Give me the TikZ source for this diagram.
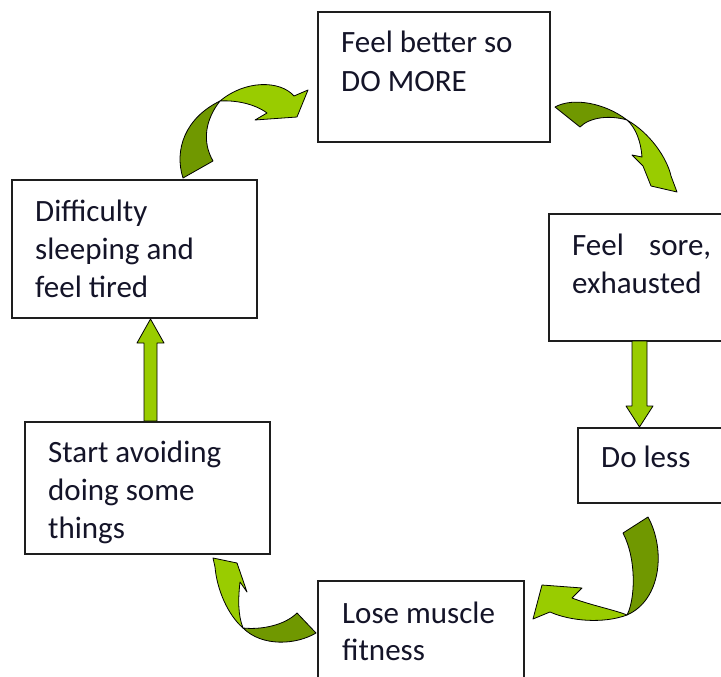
\documentclass[tikz,border=0pt]{standalone}
\usepackage{fontspec}
\setmainfont{Carlito}
\definecolor{lgreen}{RGB}{153,204,0}
\definecolor{dgreen}{RGB}{112,152,0}
\definecolor{txtc}{RGB}{20,20,40}
\definecolor{boxc}{RGB}{30,30,30}
\begin{document}
\begin{tikzpicture}[x=1pt,y=-1pt,
  box/.style={draw=boxc, line width=1.2pt, fill=white, inner sep=0pt, outer sep=0pt, anchor=north west},
  txt/.style={anchor=base west, inner sep=0pt, text=txtc, font=\fontsize{31}{38}\selectfont},
  arrl/.style={fill=lgreen, draw=black, line width=0.8pt, line join=round},
  arrd/.style={fill=dgreen, draw=black, line width=0.8pt, line join=round}]
\clip (0,0) rectangle (721,677);
\fill[white] (0,0) rectangle (721,677);
% boxes
\node[box, minimum width=232pt, minimum height=130pt] (b1) at (318,12) {};
\node[box, minimum width=245pt, minimum height=138pt] (b2) at (12,180) {};
\node[box, minimum width=190pt, minimum height=127pt] (b3) at (549,214) {};
\node[box, minimum width=160pt, minimum height=75pt] (b4) at (578,428) {};
\node[box, minimum width=245pt, minimum height=132pt] (b5) at (25,422) {};
\node[box, minimum width=206pt, minimum height=110pt] (b6) at (318,581) {};
% texts
\node[txt] (t1a) at (341,53) {Feel better so};
\node[txt] (t1b) at (341,92) {DO MORE};
\node[txt] (t2a) at (35,221) {Difficulty};
\node[txt] (t2b) at (35,259) {sleeping and};
\node[txt] (t2c) at (35,297) {feel tired};
\node[txt] (t3a) at (572,255) {\makebox[139pt][s]{Feel sore,}};
\node[txt] (t3b) at (572,293) {exhausted};
\node[txt] (t4a) at (601,467) {Do less};
\node[txt] (t5a) at (48,462) {Start avoiding};
\node[txt] (t5b) at (48,500) {doing some};
\node[txt] (t5c) at (48,538) {things};
\node[txt] (t6a) at (342,623) {Lose muscle};
\node[txt] (t6b) at (342,660) {fitness};
% straight arrows
\path[arrl] (144,421) -- (144,343) -- (137,343) -- (150.5,319) -- (164,343) -- (157,343) -- (157,421) -- cycle;
\path[arrl] (632,341) -- (632,406) -- (626,406) -- (639.5,427) -- (653,406) -- (647,406) -- (647,341) -- cycle;
% curved arrow A (b2 -> b1)
\path[arrd] (183,178) .. controls (174,150) and (185,118) .. (220,101)
  .. controls (205,120) and (202,142) .. (213,161) -- cycle;
\path[arrl] (220,101) .. controls (245,80) and (280,80) .. (294,96) -- (308,90) -- (297,117) -- (255,120) -- (267,113)
  .. controls (255,104) and (236,100) .. (220,101) -- cycle;
% curved arrow B (b1 -> b3)
\path[arrd] (555,107) .. controls (573,97) and (605,103) .. (627,120)
  .. controls (610,115) and (590,117) .. (580,127) -- cycle;
\path[arrl] (627,120) .. controls (650,133) and (667,158) .. (671,176) -- (677,192) -- (651,186) -- (643,166) -- (632,155)
  -- (642,157) .. controls (641,142) and (636,128) .. (627,120) -- cycle;
% curved arrow C (b4 -> b6)
\path[arrd] (623,533) -- (648,517) .. controls (666,550) and (661,600) .. (627,615)
  .. controls (635,600) and (637,560) .. (623,533) -- cycle;
\path[arrl] (627,615) .. controls (603,624) and (570,621) .. (550,612) -- (533,619) -- (542,585) -- (582,588) -- (572,598)
  .. controls (590,605) and (615,610) .. (627,615) -- cycle;
% curved arrow D (b6 -> b5)
\path[arrd] (243,628) .. controls (262,647) and (296,645) .. (316,633) -- (297,613)
  .. controls (285,625) and (262,630) .. (243,628) -- cycle;
\path[arrl] (213,558) -- (237,563) -- (247,592) -- (240,582) .. controls (238,600) and (238,615) .. (243,628)
  .. controls (228,615) and (217,590) .. (215,567) -- cycle;
\end{tikzpicture}
\end{document}
